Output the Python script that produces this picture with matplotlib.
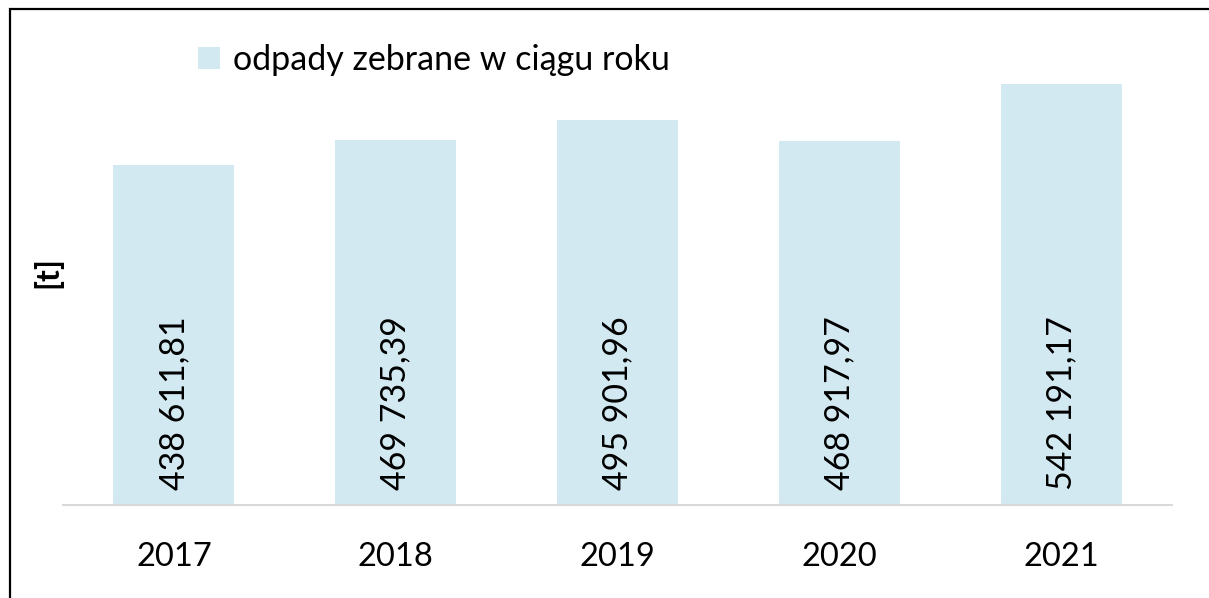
import matplotlib.pyplot as plt
from matplotlib.patches import Rectangle

years = ['2017', '2018', '2019', '2020', '2021']
values = [438611.81, 469735.39, 495901.96, 468917.97, 542191.17]
labels = ['438 611,81', '469 735,39', '495 901,96', '468 917,97', '542 191,17']
series_name = 'odpady zebrane w ciągu roku'

plt.rcParams['font.family'] = ['Lato', 'DejaVu Sans']

W, H = 1209, 598
fig = plt.figure(figsize=(W / 100, H / 100), dpi=100)

# outer frame (cut at the right and bottom edges)
fig.patches.append(Rectangle((10 / W, -0.05), 1.2, (H - 9) / H + 0.05,
                             transform=fig.transFigure, fill=False,
                             edgecolor='black', linewidth=1.6))

ax = fig.add_axes([63 / W, (H - 505) / H, (1172 - 63) / W, (505 - 30) / H])
x = range(len(years))
ax.bar(x, values, width=0.545, color='#d3e9f1', label=series_name)
ax.set_xlim(-0.5, len(years) - 0.5)
ax.set_ylim(0, 612000)

for i, lab in enumerate(labels):
    ax.text(i, 19000, lab, rotation=90, ha='center', va='bottom', fontsize=24.5)

for s in ['top', 'right', 'left']:
    ax.spines[s].set_visible(False)
ax.spines['bottom'].set_color('#d9d9d9')
ax.spines['bottom'].set_linewidth(1.5)
ax.set_yticks([])
ax.set_xticks(list(x))
ax.set_xticklabels(years, fontsize=23.5)
ax.tick_params(axis='x', length=0, pad=27)

fig.text(47 / W, 1 - 272 / H, '[t]', rotation=90, ha='center', va='center',
         fontsize=23, fontweight='bold')

ax.legend(loc='upper left', bbox_to_anchor=(104 / (1172 - 63), 1.035),
          frameon=False, fontsize=24.5, handlelength=0.65, handleheight=0.65,
          handletextpad=0.4)

fig.savefig('out.png', dpi=100)
